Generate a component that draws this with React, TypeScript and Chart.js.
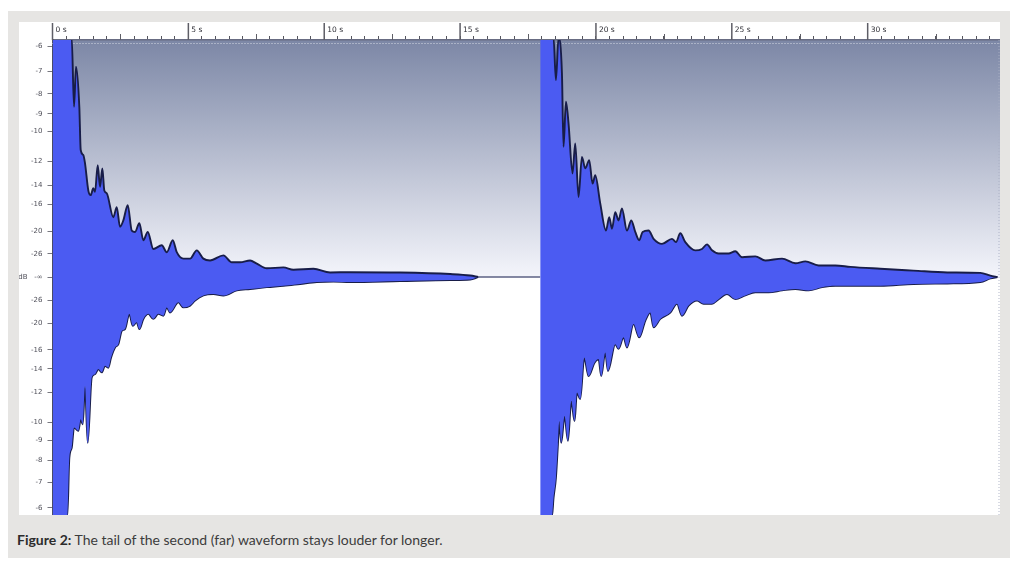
import { useEffect, useRef } from 'react';
import { Chart, registerables } from 'chart.js';

Chart.register(...registerables);

// Time axis (seconds) — labelled major ticks
const majorTimes = [0, 5, 10, 15, 20, 25, 30];
const mediumTimes = [2.5, 7.5, 12.5, 17.5, 22.5, 27.5, 32.5];

// Amplitude axis: dB labels at their linear-amplitude positions
const dbLevels = [-6, -7, -8, -9, -10, -12, -14, -16, -20, -26];

// Waveform envelopes: [time (s), linear amplitude]
const wave1Upper: number[][] = [
  [0, 0.52], [0.707, 0.52], [0.792, 0.37], [0.865, 0.457], [0.987, 0.37], [1.038, 0.276],
  [1.134, 0.265], [1.197, 0.247], [1.318, 0.188], [1.406, 0.178], [1.502, 0.193], [1.565, 0.185],
  [1.664, 0.243], [1.749, 0.196], [1.834, 0.236], [1.907, 0.188], [1.996, 0.182], [2.239, 0.13],
  [2.364, 0.152], [2.485, 0.109], [2.607, 0.123], [2.769, 0.156], [2.916, 0.101], [3.038, 0.098],
  [3.196, 0.117], [3.343, 0.08], [3.505, 0.098], [3.711, 0.061], [4.021, 0.069], [4.205, 0.054],
  [4.426, 0.08], [4.573, 0.054], [4.816, 0.04], [5.063, 0.04], [5.309, 0.058], [5.552, 0.04],
  [5.799, 0.036], [6.289, 0.047], [6.598, 0.032], [6.904, 0.032], [7.272, 0.036], [7.518, 0.029],
  [7.887, 0.019], [8.498, 0.021], [8.866, 0.016], [9.602, 0.018], [10.217, 0.01], [10.953, 0.0105],
  [12.794, 0.0098], [14.636, 0.0065], [15.372, 0.0033], [15.667, 0],
];
const wave1Lower: number[][] = [
  [0, -0.52], [0.545, -0.52], [0.619, -0.393], [0.707, -0.371], [0.792, -0.327], [0.95, -0.334],
  [1.038, -0.309], [1.112, -0.32], [1.197, -0.236], [1.296, -0.36], [1.443, -0.218], [1.565, -0.211],
  [1.686, -0.2], [1.811, -0.207], [1.933, -0.193], [2.054, -0.197], [2.154, -0.175], [2.301, -0.153],
  [2.423, -0.146], [2.548, -0.117], [2.669, -0.113], [2.828, -0.08], [2.953, -0.106], [3.1, -0.098],
  [3.196, -0.113], [3.343, -0.091], [3.527, -0.08], [3.711, -0.091], [3.895, -0.08], [4.08, -0.084],
  [4.205, -0.066], [4.326, -0.077], [4.632, -0.055], [4.816, -0.066], [5.063, -0.062], [5.247, -0.051],
  [5.552, -0.04], [5.92, -0.037], [6.289, -0.04], [6.782, -0.029], [7.272, -0.026], [7.887, -0.022],
  [8.498, -0.019], [9.113, -0.015], [9.728, -0.011], [10.339, -0.01], [10.953, -0.011],
  [12.794, -0.0087], [14.636, -0.0065], [15.372, -0.0054], [15.667, 0],
];
const wave2Upper: number[][] = [
  [17.949, 0.52], [18.439, 0.52], [18.527, 0.428], [18.623, 0.52], [18.748, 0.443], [18.807, 0.283],
  [18.896, 0.381], [18.991, 0.334], [19.138, 0.225], [19.238, 0.29], [19.359, 0.174], [19.484, 0.261],
  [19.606, 0.236], [19.753, 0.254], [19.875, 0.203], [19.974, 0.221], [20.158, 0.16], [20.368, 0.101],
  [20.49, 0.13], [20.589, 0.105], [20.711, 0.141], [20.832, 0.123], [20.957, 0.149], [21.141, 0.101],
  [21.3, 0.123], [21.447, 0.098], [21.594, 0.08], [21.716, 0.098], [21.937, 0.101], [22.121, 0.083],
  [22.43, 0.072], [22.798, 0.083], [22.945, 0.076], [23.104, 0.095], [23.288, 0.076], [23.656, 0.058],
  [23.903, 0.061], [24.087, 0.071], [24.271, 0.058], [24.514, 0.051], [24.882, 0.051], [25.129, 0.056],
  [25.376, 0.043], [25.865, 0.045], [26.233, 0.036], [26.848, 0.04], [27.338, 0.03], [27.706, 0.034],
  [28.196, 0.025], [28.811, 0.025], [29.363, 0.022], [30.467, 0.018], [31.683, 0.014], [32.934, 0.01],
  [34.149, 0.009], [34.517, 0.003], [34.775, 0],
];
const wave2Lower: number[][] = [
  [17.949, -0.52], [18.38, -0.52], [18.439, -0.48], [18.527, -0.436], [18.601, -0.363], [18.649, -0.313],
  [18.722, -0.36], [18.844, -0.302], [18.969, -0.356], [19.091, -0.269], [19.212, -0.313], [19.3, -0.251],
  [19.422, -0.265], [19.569, -0.175], [19.727, -0.215], [19.948, -0.186], [20.096, -0.178], [20.195, -0.215],
  [20.342, -0.164], [20.442, -0.204], [20.711, -0.146], [20.832, -0.156], [21.016, -0.131], [21.141, -0.153],
  [21.384, -0.102], [21.594, -0.131], [21.815, -0.095], [21.999, -0.077], [22.121, -0.109], [22.367, -0.091],
  [22.736, -0.077], [22.982, -0.058], [23.167, -0.084], [23.409, -0.062], [23.719, -0.051], [23.962, -0.058],
  [24.271, -0.058], [24.514, -0.048], [24.823, -0.037], [25.129, -0.048], [25.497, -0.04], [25.865, -0.033],
  [26.355, -0.033], [26.848, -0.029], [27.338, -0.026], [27.828, -0.029], [28.321, -0.022], [28.811, -0.019],
  [30.467, -0.019], [31.683, -0.015], [32.934, -0.014], [34.149, -0.011], [34.517, -0.003], [34.775, 0],
];
// Silent gap between the two recordings
const silence: number[][] = [[15.667, 0], [17.949, 0]];

const toXY = (arr: number[][]) => arr.map(([x, y]) => ({ x, y }));

const yTickValues: number[] = [];
const yTickLabels: string[] = [];
dbLevels.forEach((db) => { yTickValues.push(Math.pow(10, db / 20)); yTickLabels.push(String(db)); });
yTickValues.push(0); yTickLabels.push('dB   -\u221e');
[...dbLevels].reverse().forEach((db) => { yTickValues.push(-Math.pow(10, db / 20)); yTickLabels.push(String(db)); });

const WAVE_FILL = '#4b5bf2';
const WAVE_EDGE = '#181d48';

const backgroundPlugin = {
  id: 'waveBackground',
  beforeDraw(chart: any) {
    const { ctx, chartArea } = chart;
    const { left, right, top, bottom } = chartArea;
    const zero = chart.scales.y.getPixelForValue(0);
    ctx.save();
    ctx.fillStyle = '#ffffff';
    ctx.fillRect(left, top, right - left, bottom - top);
    const g = ctx.createLinearGradient(0, top, 0, zero);
    g.addColorStop(0, '#7c87a6');
    g.addColorStop(1, '#f4f5fb');
    ctx.fillStyle = g;
    ctx.fillRect(left, top, right - left, zero - top);
    ctx.restore();
  },
  beforeDatasetsDraw(chart: any) {
    const { ctx, chartArea } = chart;
    const { left, right, top, bottom } = chartArea;
    ctx.save();
    ctx.strokeStyle = 'rgba(225,228,238,0.9)';
    ctx.lineWidth = 1;
    ctx.setLineDash([1, 2]);
    ctx.beginPath();
    ctx.moveTo(left, top + 3.5);
    ctx.lineTo(right, top + 3.5);
    ctx.stroke();
    ctx.strokeStyle = 'rgba(170,175,195,0.9)';
    ctx.beginPath();
    ctx.moveTo(right - 1, top);
    ctx.lineTo(right - 1, bottom);
    ctx.stroke();
    ctx.restore();
  },
  afterDraw(chart: any) {
    const { ctx, chartArea } = chart;
    const xs = chart.scales.x;
    const top = chartArea.top;
    ctx.save();
    ctx.strokeStyle = '#5e5e66';
    ctx.lineWidth = 1.5;
    majorTimes.forEach((t) => {
      const px = xs.getPixelForValue(t);
      ctx.beginPath();
      ctx.moveTo(px, top - 17);
      ctx.lineTo(px, top);
      ctx.stroke();
    });
    ctx.lineWidth = 1;
    mediumTimes.forEach((t) => {
      const px = Math.round(xs.getPixelForValue(t)) + 0.5;
      ctx.beginPath();
      ctx.moveTo(px, top - 6);
      ctx.lineTo(px, top);
      ctx.stroke();
    });
    ctx.restore();
  },
};

export default function App() {
  const ref = useRef<HTMLCanvasElement | null>(null);

  useEffect(() => {
    if (!ref.current) return;
    const edge = { borderColor: WAVE_EDGE, borderWidth: 1.9, pointRadius: 0, cubicInterpolationMode: 'monotone' };
    const chart = new Chart(ref.current, {
      type: 'line',
      data: {
        datasets: [
          { label: 'near-top', data: toXY(wave1Upper), ...edge, backgroundColor: WAVE_FILL, fill: '+1' },
          { label: 'near-bottom', data: toXY(wave1Lower), ...edge, fill: false },
          { label: 'far-top', data: toXY(wave2Upper), ...edge, backgroundColor: WAVE_FILL, fill: '+1' },
          { label: 'far-bottom', data: toXY(wave2Lower), ...edge, fill: false },
          { label: 'silence', data: toXY(silence), borderColor: '#5d6285', borderWidth: 1.4, pointRadius: 0, fill: false },
        ] as any,
      },
      options: {
        animation: false,
        responsive: false,
        devicePixelRatio: 1,
        events: [],
        layout: { padding: 0 },
        plugins: { legend: { display: false }, tooltip: { enabled: false }, title: { display: false } },
        scales: {
          x: {
            type: 'linear',
            position: 'top',
            min: 0,
            max: 34.87,
            grid: { drawOnChartArea: false, drawTicks: true, tickLength: 4, color: '#55555d', lineWidth: 1 },
            border: { display: true, color: '#686c82', width: 1.6 },
            ticks: {
              stepSize: 0.5,
              includeBounds: false,
              autoSkip: false,
              maxRotation: 0,
              minRotation: 0,
              align: 'start',
              labelOffset: 3,
              padding: 1.5,
              color: '#2f2f36',
              font: { family: 'DejaVu Sans', size: 7.5 },
              callback: (v: any) => (majorTimes.includes(Number(v)) ? `${v} s` : ''),
            },
            afterFit: (s: any) => { s.height = 18; s.paddingLeft = 0; s.paddingRight = 0; },
          },
          y: {
            type: 'linear',
            min: -0.517,
            max: 0.515,
            grid: { drawOnChartArea: false, drawTicks: true, tickLength: 5, color: '#77777f', lineWidth: 1 },
            border: { display: true, color: '#4a4a55', width: 1.5 },
            afterBuildTicks: (s: any) => { s.ticks = yTickValues.map((value) => ({ value })); },
            ticks: {
              autoSkip: false,
              padding: 5,
              color: '#50505a',
              font: { family: 'DejaVu Sans', size: 7 },
              callback: (_v: any, i: number) => yTickLabels[i],
            },
            afterFit: (s: any) => { s.width = 33.5; s.paddingTop = 0; s.paddingBottom = 0; },
          },
        },
      } as any,
      plugins: [backgroundPlugin],
    });
    return () => chart.destroy();
  }, []);

  return (
    <div style={{ position: 'absolute', left: 0, top: 0, width: 1018, height: 573, background: '#ffffff', overflow: 'hidden' }}>
      <div style={{ position: 'absolute', left: 8, top: 11, width: 1002, height: 547, background: '#e6e5e3' }} />
      <div style={{ position: 'absolute', left: 19, top: 22, width: 981, height: 493, background: '#ffffff' }}>
        <canvas ref={ref} width={981} height={493} style={{ display: 'block', width: 981, height: 493 }} />
      </div>
      <div
        style={{
          position: 'absolute', left: 17, top: 531, fontFamily: 'Lato, "Open Sans", sans-serif', fontSize: 14,
          lineHeight: '18px', color: '#3c3c3c', whiteSpace: 'nowrap',
        }}
      >
        <b style={{ color: '#2c2c2c' }}>Figure 2:</b> The tail of the second (far) waveform stays louder for longer.
      </div>
    </div>
  );
}
